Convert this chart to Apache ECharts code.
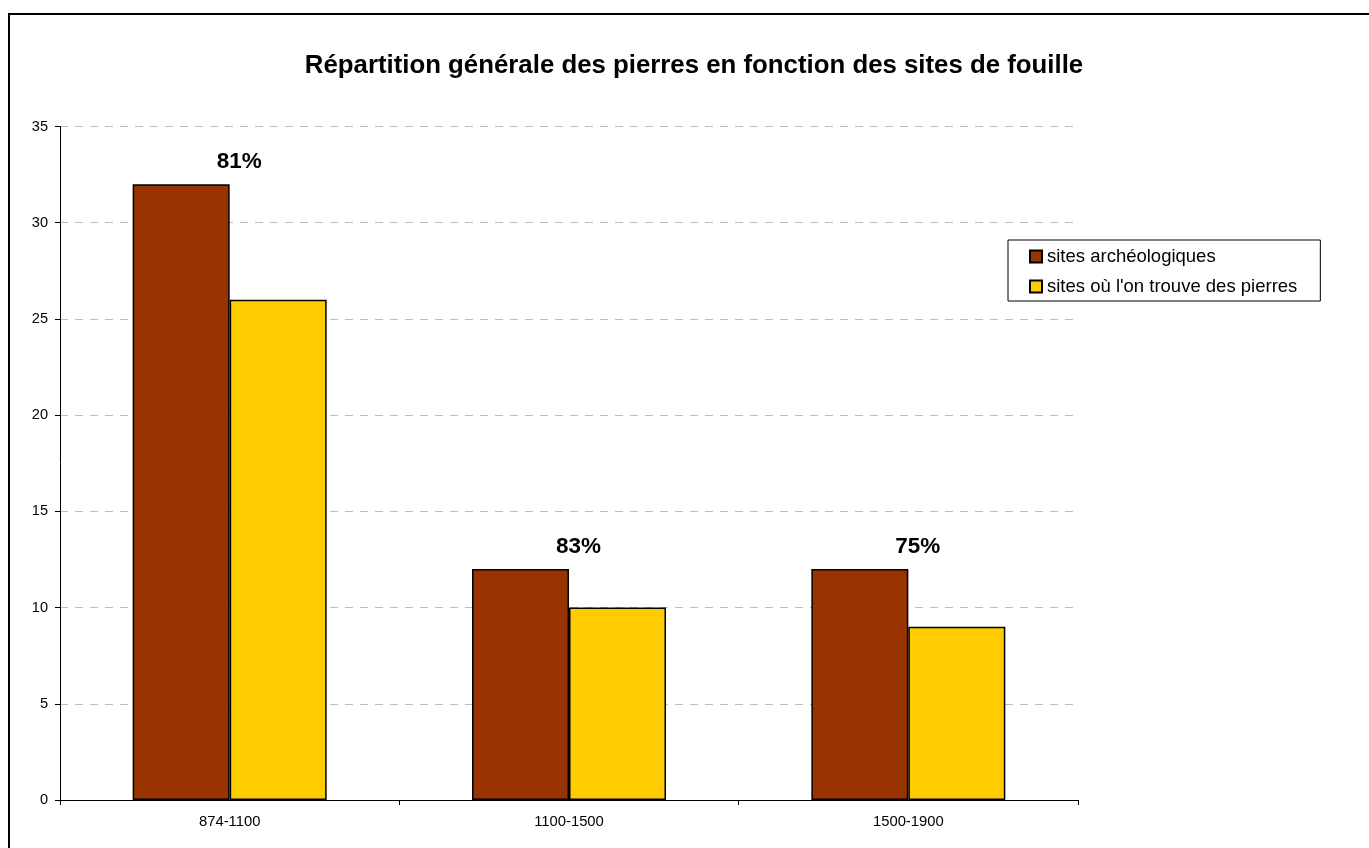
<!DOCTYPE html>
<html><head><meta charset="utf-8">
<script src="https://cdn.jsdelivr.net/npm/echarts@6/dist/echarts.min.js"></script>
<style>html,body{margin:0;padding:0;background:#fff}#c{width:1369px;height:848px}</style>
</head><body><div id="c"></div>
<script>
const categories = ['874-1100', '1100-1500', '1500-1900'];
const seriesNames = ['sites archéologiques', "sites où l'on trouve des pierres"];
const archSites = [32, 12, 12];
const stoneSites = [26, 10, 9];
const percentLabels = ['81%', '83%', '75%'];
const yTicks = [0, 5, 10, 15, 20, 25, 30, 35];

const font = '"Liberation Sans", Arial, sans-serif';
const chart = echarts.init(document.getElementById('c'));
chart.setOption({
  animation: false,
  backgroundColor: '#fff',
  title: {
    text: 'Répartition générale des pierres en fonction des sites de fouille',
    left: 689, top: 48, textAlign: 'center',
    textStyle: { fontFamily: font, fontSize: 25.8, fontWeight: 'bold', color: '#000' }
  },
  graphic: [{
    type: 'rect', shape: { x: 9, y: 14, width: 1400, height: 900 },
    style: { fill: 'none', stroke: '#000', lineWidth: 2 }, silent: true, z: 100
  }],
  legend: {
    orient: 'vertical', left: 1008, top: 240,
    padding: [7, 23, 5, 21],
    borderColor: '#000', borderWidth: 1,
    itemWidth: 12, itemHeight: 12, itemGap: 11,
    icon: 'rect',
    textStyle: { fontFamily: font, fontSize: 18.5, color: '#000', padding: [0, 0, 0, 0] },
    data: seriesNames
  },
  grid: { left: 60, top: 126.5, right: 291, bottom: 48, containLabel: false },
  xAxis: {
    type: 'category', data: categories,
    axisLine: { lineStyle: { color: '#000', width: 1 } },
    axisTick: { show: true, length: 5, inside: false, lineStyle: { color: '#000' } },
    axisLabel: { fontFamily: font, fontSize: 14.8, color: '#000', margin: 14 },
    splitLine: { show: false }
  },
  yAxis: {
    type: 'value', min: yTicks[0], max: yTicks[yTicks.length - 1], interval: 5,
    axisLine: { show: true, lineStyle: { color: '#000', width: 1 } },
    axisTick: { show: true, length: 5, lineStyle: { color: '#000' } },
    axisLabel: { fontFamily: font, fontSize: 14.6, color: '#000', margin: 12 },
    splitLine: { show: true, lineStyle: { color: '#bdbdbd', type: [8, 7], width: 1 } }
  },
  series: [
    {
      name: seriesNames[0], type: 'bar', data: archSites,
      barWidth: 97, barGap: '0%',
      itemStyle: { color: '#993300', borderColor: '#000', borderWidth: 1.5 },
      label: {
        show: true, position: 'top', offset: [58, -6],
        formatter: p => percentLabels[p.dataIndex],
        fontFamily: font, fontSize: 22.5, fontWeight: 'bold', color: '#000'
      }
    },
    {
      name: seriesNames[1], type: 'bar', data: stoneSites,
      barWidth: 97, barGap: '0%',
      itemStyle: { color: '#FFCC00', borderColor: '#000', borderWidth: 1.5 }
    }
  ]
});
</script></body></html>
